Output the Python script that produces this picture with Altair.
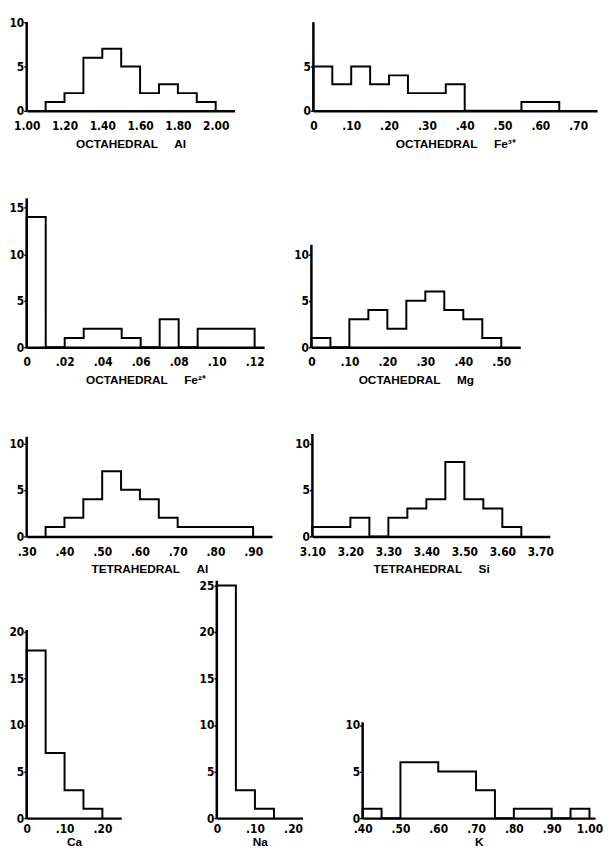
import altair as alt
import pandas as pd

# ---------------- data (bin edges and counts) ----------------
oct_al_edges = [1.10, 1.20, 1.30, 1.40, 1.50, 1.60, 1.70, 1.80, 1.90, 2.00]
oct_al_counts = [1, 2, 6, 7, 5, 2, 3, 2, 1]

fe3_edges = [0.00, 0.05, 0.10, 0.15, 0.20, 0.25, 0.30, 0.35, 0.40, 0.45, 0.50, 0.55, 0.60, 0.65]
fe3_counts = [5, 3, 5, 3, 4, 2, 2, 3, 0, 0, 0, 1, 1]

fe2_edges = [0.00, 0.01, 0.02, 0.03, 0.04, 0.05, 0.06, 0.07, 0.08, 0.09, 0.10, 0.11, 0.12]
fe2_counts = [14, 0, 1, 2, 2, 1, 0, 3, 0, 2, 2, 2]

mg_edges = [0.00, 0.05, 0.10, 0.15, 0.20, 0.25, 0.30, 0.35, 0.40, 0.45, 0.50]
mg_counts = [1, 0, 3, 4, 2, 5, 6, 4, 3, 1]

tet_al_edges = [0.35, 0.40, 0.45, 0.50, 0.55, 0.60, 0.65, 0.70, 0.75, 0.80, 0.85, 0.90]
tet_al_counts = [1, 2, 4, 7, 5, 4, 2, 1, 1, 1, 1]

si_edges = [3.10, 3.15, 3.20, 3.25, 3.30, 3.35, 3.40, 3.45, 3.50, 3.55, 3.60, 3.65]
si_counts = [1, 1, 2, 0, 2, 3, 4, 8, 4, 3, 1]

ca_edges = [0.00, 0.05, 0.10, 0.15, 0.20]
ca_counts = [18, 7, 3, 1]

na_edges = [0.00, 0.05, 0.10, 0.15]
na_counts = [25, 3, 1]

k_edges = [0.40, 0.45, 0.50, 0.55, 0.60, 0.65, 0.70, 0.75, 0.80, 0.85, 0.90, 0.95, 1.00]
k_counts = [1, 0, 6, 6, 5, 5, 3, 0, 1, 1, 0, 1]

# tick labels
oct_al_ticks = [1.0, 1.2, 1.4, 1.6, 1.8, 2.0]
fe3_ticks = [0, 0.1, 0.2, 0.3, 0.4, 0.5, 0.6, 0.7]
fe2_ticks = [0, 0.02, 0.04, 0.06, 0.08, 0.10, 0.12]
mg_ticks = [0, 0.1, 0.2, 0.3, 0.4, 0.5]
tet_al_ticks = [0.3, 0.4, 0.5, 0.6, 0.7, 0.8, 0.9]
si_ticks = [3.1, 3.2, 3.3, 3.4, 3.5, 3.6, 3.7]
ca_ticks = [0, 0.1, 0.2]
na_ticks = [0, 0.1, 0.2]
k_ticks = [0.4, 0.5, 0.6, 0.7, 0.8, 0.9, 1.0]

LABEL_FONT = "Liberation Sans Narrow, DejaVu Sans Condensed, Liberation Sans, sans-serif"
TITLE_FONT = "Liberation Sans, Arial, sans-serif"
SP = "\u00a0" * 5

label_expr = ("datum.value == 0 ? '0' : (datum.value < 1 ? "
              "substring(format(datum.value, '.2f'), 1) : format(datum.value, '.2f'))")


def panel(edges, counts, xdom, xticks, ytop, yticks, width, height, title,
          ppu=9.45, lpad=10, tpad=7):
    xs = [edges[0]] + list(edges)
    ys = [0] + list(counts) + [0]
    df = pd.DataFrame({"i": list(range(len(xs))), "x": xs, "y": ys})
    xscale = alt.Scale(domain=xdom, nice=False, zero=False)
    yscale = alt.Scale(domain=[0, height / ppu], nice=False, zero=True)
    xaxis = alt.Axis(values=xticks, labelExpr=label_expr, title=title,
                     grid=False, ticks=False, domain=True,
                     domainColor="black", domainWidth=2.5,
                     labelFont=LABEL_FONT, labelFontSize=12,
                     labelFontWeight="bold", labelColor="black",
                     labelPadding=lpad, labelOverlap=False, labelFlush=False,
                     titleFont=TITLE_FONT, titleFontSize=12,
                     titleFontWeight="bold", titleColor="black",
                     titlePadding=tpad)
    yaxis = alt.Axis(values=yticks, format="d", title=None, grid=False,
                     domain=False, ticks=True, tickSize=3, tickWidth=1.5,
                     tickColor="black", labelFont=LABEL_FONT,
                     labelFontSize=12, labelFontWeight="bold",
                     labelColor="black", labelPadding=0,
                     labelOverlap=False, labelFlush=False)
    line = alt.Chart(df).mark_line(
        interpolate="step-after", color="black", strokeWidth=2
    ).encode(
        x=alt.X("x:Q", scale=xscale, axis=xaxis),
        y=alt.Y("y:Q", scale=yscale, axis=yaxis),
        order="i:O",
    )
    adf = pd.DataFrame({"x": [xdom[0]], "y": [0], "y2": [ytop]})
    axis_line = alt.Chart(adf).mark_rule(color="black", strokeWidth=2.5).encode(
        x=alt.X("x:Q", scale=xscale, axis=xaxis),
        y=alt.Y("y:Q", scale=yscale, axis=yaxis),
        y2="y2:Q",
    )
    return alt.layer(line, axis_line).properties(width=width, height=height)


H1, H2, H3, H4 = 92, 201, 153, 247
PPU1 = 9.0

p1 = panel(oct_al_edges, oct_al_counts, [1.0, 2.10], oct_al_ticks, 10, [0, 5, 10], 211, H1,
           "OCTAHEDRAL" + SP + "Al", ppu=PPU1)
p2 = panel(fe3_edges, fe3_counts, [0, 0.75], fe3_ticks, 10, [0, 5], 288, H1,
           "OCTAHEDRAL" + SP + "Fe³⁺", ppu=PPU1)
p3 = panel(fe2_edges, fe2_counts, [0, 0.125], fe2_ticks, 16, [0, 5, 10, 15], 241, H2,
           "OCTAHEDRAL" + SP + "Fe²⁺")
p4 = panel(mg_edges, mg_counts, [0, 0.55], mg_ticks, 11, [0, 5, 10], 212, H2,
           "OCTAHEDRAL" + SP + "Mg")
p5 = panel(tet_al_edges, tet_al_counts, [0.30, 0.95], tet_al_ticks, 10.7, [0, 5, 10], 249, H3,
           "TETRAHEDRAL" + SP + "Al")
p6 = panel(si_edges, si_counts, [3.10, 3.725], si_ticks, 11, [0, 5, 10], 241, H3,
           "TETRAHEDRAL" + SP + "Si")
p7 = panel(ca_edges, ca_counts, [0, 0.25], ca_ticks, 20.2, [0, 5, 10, 15, 20], 96, H4, "Ca",
           lpad=6, tpad=2)
p8 = panel(na_edges, na_counts, [0, 0.225], na_ticks, 25.5, [0, 5, 10, 15, 20, 25], 87, H4, "Na",
           lpad=6, tpad=2)
p9 = panel(k_edges, k_counts, [0.40, 1.015], k_ticks, 10.3, [0, 5, 10], 236, H4, "K",
           lpad=6, tpad=2)

row1 = alt.hconcat(p1, p2, spacing=69)
row2 = alt.hconcat(p3, p4, spacing=29)
row3 = alt.hconcat(p5, p6, spacing=22)
row4 = alt.hconcat(alt.hconcat(p7, p8, spacing=78), p9, spacing=42)

chart = alt.vconcat(row1, row2, row3, row4, spacing=0).properties(
    padding={"left": 0, "top": 1, "right": 0, "bottom": 0}
).configure(background="white").configure_view(strokeWidth=0)

chart.save("out.html", embed_options={"renderer": "svg", "actions": False})
